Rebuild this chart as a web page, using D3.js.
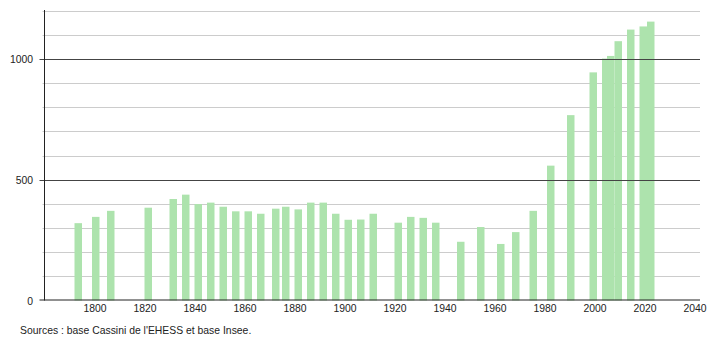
<!DOCTYPE html>
<html>
<head>
<meta charset="utf-8">
<script src="https://cdn.jsdelivr.net/npm/d3@7"></script>
<style>
  html, body { margin: 0; padding: 0; background: #fff; }
  svg { display: block; }
  text { font-family: "Liberation Sans", Arial, sans-serif; }
</style>
</head>
<body>
<svg id="chart" width="710" height="340"></svg>
<script>
const years = [1793, 1800, 1806, 1821, 1831, 1836, 1841, 1846, 1851, 1856, 1861, 1866,
  1872, 1876, 1881, 1886, 1891, 1896, 1901, 1906, 1911, 1921, 1926, 1931, 1936,
  1946, 1954, 1962, 1968, 1975, 1982, 1990, 1999, 2004, 2006, 2009, 2014, 2019, 2022];
const population = [320, 346, 371, 384, 420, 438, 399, 405, 388, 369, 369, 359,
  380, 388, 377, 405, 405, 359, 334, 335, 359, 322, 346, 342, 322,
  243, 304, 234, 283, 371, 558, 767, 944, 1001, 1012, 1073, 1121, 1134, 1154];
const xTicks = [1800, 1820, 1840, 1860, 1880, 1900, 1920, 1940, 1960, 1980, 2000, 2020, 2040];
const yMajorTicks = [0, 500, 1000];
const yMinorTicks = [100, 200, 300, 400, 600, 700, 800, 900, 1100, 1200];
const sourceText = "Sources : base Cassini de l'EHESS et base Insee.";

(function () {
const svg = d3.select("#chart");
const mLeft = 44.5, mRight = 700, mTop = 10.5, mBottom = 300.5;
const fs = 10.4;

const x = d3.scaleLinear().domain([1780, 2040]).range([45, 695]);
const y = d3.scaleLinear().domain([0, 1200]).range([mBottom, mTop]);

// minor grid
svg.append("g").selectAll("line").data(yMinorTicks).join("line")
  .attr("x1", mLeft - 2).attr("x2", mRight)
  .attr("y1", d => Math.round(y(d)) + 0.5).attr("y2", d => Math.round(y(d)) + 0.5)
  .attr("stroke", "#cccccc").attr("stroke-width", 1);

// bars
svg.append("g").selectAll("rect").data(years).join("rect")
  .attr("x", d => x(d) - 3)
  .attr("width", 7.5)
  .attr("y", (d, i) => y(population[i]))
  .attr("height", (d, i) => mBottom - y(population[i]))
  .attr("fill", "#ade3ad");

// major grid
svg.append("g").selectAll("line").data(yMajorTicks.filter(d => d > 0)).join("line")
  .attr("x1", mLeft - 5).attr("x2", mRight)
  .attr("y1", d => Math.round(y(d)) + 0.5).attr("y2", d => Math.round(y(d)) + 0.5)
  .attr("stroke", "#444444").attr("stroke-width", 1);

// y axis labels
svg.append("g").selectAll("text").data(yMajorTicks).join("text")
  .attr("x", 33).attr("y", d => y(d) + 4)
  .attr("text-anchor", "end")
  .attr("font-size", fs).attr("fill", "#222")
  .text(d => d);

// axes lines
svg.append("line").attr("x1", mLeft).attr("x2", mLeft).attr("y1", mTop - 0.5).attr("y2", mBottom)
  .attr("stroke", "#222").attr("stroke-width", 1);
svg.append("line").attr("x1", mLeft - 5).attr("x2", mRight).attr("y1", mBottom - 0.5).attr("y2", mBottom - 0.5)
  .attr("stroke", "#222").attr("stroke-width", 1);

// x axis labels
svg.append("g").selectAll("text").data(xTicks).join("text")
  .attr("x", d => x(d)).attr("y", 312)
  .attr("text-anchor", "middle")
  .attr("font-size", fs).attr("fill", "#222")
  .text(d => d);

svg.append("text").attr("x", 20).attr("y", 334)
  .attr("font-size", fs).attr("fill", "#222")
  .text(sourceText);
})();
</script>
</body>
</html>
